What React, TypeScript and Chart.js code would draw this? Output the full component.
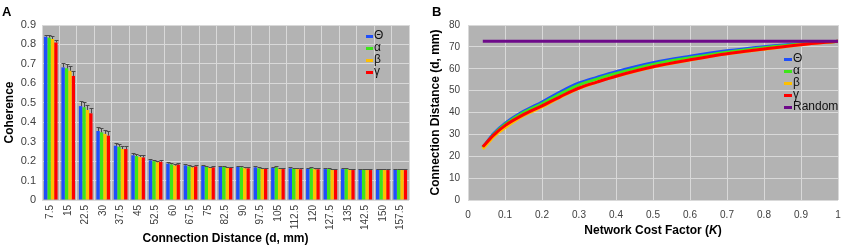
import React, { useEffect, useRef } from "react";
import { Chart, registerables } from "chart.js";

Chart.register(...registerables);

// ---------- Panel A data ----------
const distanceLabels = [
  "7.5", "15", "22.5", "30", "37.5", "45", "52.5", "60", "67.5", "75", "82.5",
  "90", "97.5", "105", "112.5", "120", "127.5", "135", "142.5", "150", "157.5",
];
const thetaCoherence = [0.840, 0.682, 0.483, 0.355, 0.279, 0.230, 0.204, 0.187, 0.178, 0.175, 0.171, 0.171, 0.168, 0.166, 0.163, 0.161, 0.159, 0.159, 0.158, 0.157, 0.157];
const alphaCoherence = [0.835, 0.677, 0.477, 0.348, 0.274, 0.226, 0.200, 0.183, 0.173, 0.170, 0.170, 0.168, 0.163, 0.168, 0.161, 0.163, 0.159, 0.159, 0.158, 0.157, 0.157];
const betaCoherence = [0.828, 0.665, 0.463, 0.340, 0.262, 0.221, 0.194, 0.177, 0.168, 0.166, 0.166, 0.163, 0.159, 0.159, 0.159, 0.158, 0.154, 0.156, 0.154, 0.154, 0.154];
const gammaCoherence = [0.810, 0.638, 0.446, 0.331, 0.262, 0.219, 0.197, 0.182, 0.173, 0.168, 0.166, 0.163, 0.161, 0.159, 0.158, 0.158, 0.156, 0.154, 0.154, 0.154, 0.154];

const thetaError = [0.010, 0.020, 0.025, 0.022, 0.012, 0.010, 0.008, 0.007, 0.006, 0.005, 0.005, 0.005, 0.005, 0.005, 0.005, 0.005, 0.004, 0.004, 0.004, 0.004, 0.004];
const alphaError = [0.012, 0.022, 0.025, 0.022, 0.013, 0.010, 0.008, 0.007, 0.006, 0.005, 0.005, 0.005, 0.005, 0.005, 0.005, 0.005, 0.004, 0.004, 0.004, 0.004, 0.004];
const betaError = [0.013, 0.024, 0.026, 0.022, 0.015, 0.010, 0.008, 0.007, 0.006, 0.005, 0.005, 0.005, 0.005, 0.005, 0.005, 0.005, 0.004, 0.004, 0.004, 0.004, 0.004];
const gammaError = [0.015, 0.026, 0.026, 0.022, 0.015, 0.010, 0.008, 0.007, 0.006, 0.005, 0.005, 0.005, 0.005, 0.005, 0.005, 0.005, 0.004, 0.004, 0.004, 0.004, 0.004];

// ---------- Panel B data ----------
const costFactors = [0.04, 0.07, 0.1, 0.15, 0.2, 0.25, 0.3, 0.35, 0.4, 0.5, 0.6, 0.7, 0.8, 0.9, 1.0];
const thetaDistance = [24.0, 30.5, 35.0, 40.5, 44.8, 49.5, 53.5, 56.2, 58.7, 62.8, 65.7, 68.2, 70.1, 71.6, 72.6];
const alphaDistance = [23.8, 30.0, 34.5, 40.0, 44.0, 48.5, 52.6, 55.4, 57.8, 62.0, 65.0, 67.6, 69.6, 71.3, 72.6];
const betaDistance = [23.3, 29.0, 33.0, 38.5, 42.5, 47.0, 51.0, 54.0, 56.5, 60.8, 64.0, 66.8, 68.9, 71.0, 72.6];
const gammaDistance = [24.3, 29.8, 34.0, 39.0, 43.0, 47.3, 51.2, 54.0, 56.6, 60.9, 64.1, 66.9, 69.0, 71.0, 72.6];
const randomCostFactors = [0.04, 1.0];
const randomDistance = [72.6, 72.6];

const seriesNames = ["Θ", "α", "β", "γ"];
const seriesColors = ["#1f4ffa", "#3de619", "#ffc000", "#ff0000"];
const randomName = "Random";
const randomColor = "#6e0a8a";

const FONT = "'Liberation Sans', Arial, Helvetica, sans-serif";
const PLOT_BG = "#b3b3b3";
const GRID = "#d9d9d9";
const TICK_COLOR = "#404040";

// ---------- plugins ----------
const plotBgPlugin = {
  id: "plotBg",
  beforeDraw(chart: any, _args: any, opts: any) {
    const { ctx, chartArea } = chart;
    if (!chartArea) return;
    ctx.save();
    ctx.fillStyle = opts.color || PLOT_BG;
    ctx.fillRect(chartArea.left, chartArea.top, chartArea.width, chartArea.height);
    ctx.restore();
  },
};

const errorBarsPlugin = {
  id: "errorBars",
  afterDatasetsDraw(chart: any) {
    const { ctx } = chart;
    const yScale = chart.scales.y;
    chart.data.datasets.forEach((ds: any, i: number) => {
      const errs = ds.errorBars;
      if (!errs) return;
      const meta = chart.getDatasetMeta(i);
      ctx.save();
      ctx.strokeStyle = "#4a4a4a";
      ctx.lineWidth = 1;
      meta.data.forEach((bar: any, j: number) => {
        const v = ds.data[j];
        const e = errs[j];
        const yTop = Math.round(yScale.getPixelForValue(v + e)) + 0.5;
        const x = Math.round(bar.x) + 0.5;
        ctx.beginPath();
        ctx.moveTo(x, bar.y);
        ctx.lineTo(x, yTop);
        ctx.moveTo(x - 2, yTop);
        ctx.lineTo(x + 2, yTop);
        ctx.stroke();
      });
      ctx.restore();
    });
  },
};

const innerLegendPlugin = {
  id: "innerLegend",
  afterDraw(chart: any, _args: any, opts: any) {
    if (!opts || opts.display === false) return;
    const { ctx } = chart;
    ctx.save();
    ctx.font = opts.font;
    ctx.textBaseline = "middle";
    ctx.textAlign = "left";
    chart.data.datasets.forEach((ds: any, i: number) => {
      const cy = opts.y + i * opts.spacing;
      ctx.fillStyle = ds.legendColor;
      ctx.fillRect(opts.x, Math.round(cy - 1.5), opts.markerWidth, 3);
      ctx.fillStyle = "#111111";
      ctx.fillText(ds.label, opts.x + opts.markerWidth + 1, cy);
    });
    ctx.restore();
  },
};

const panelLabelPlugin = {
  id: "panelLabel",
  afterDraw(chart: any, _args: any, opts: any) {
    if (!opts || !opts.text) return;
    const { ctx } = chart;
    ctx.save();
    ctx.font = opts.font;
    ctx.fillStyle = "#000000";
    ctx.textBaseline = "alphabetic";
    ctx.textAlign = "left";
    ctx.fillText(opts.text, opts.x, opts.y);
    ctx.restore();
  },
};

const richXTitlePlugin = {
  id: "richXTitle",
  afterDraw(chart: any, _args: any, opts: any) {
    if (!opts || !opts.parts) return;
    const { ctx, chartArea } = chart;
    ctx.save();
    ctx.fillStyle = "#000000";
    ctx.textBaseline = "middle";
    ctx.textAlign = "left";
    const fontFor = (p: any) => `${p.italic ? "italic " : ""}bold ${opts.size}px ${FONT}`;
    let total = 0;
    opts.parts.forEach((p: any) => {
      ctx.font = fontFor(p);
      total += ctx.measureText(p.text).width;
    });
    let x = (chartArea.left + chartArea.right) / 2 - total / 2;
    opts.parts.forEach((p: any) => {
      ctx.font = fontFor(p);
      ctx.fillText(p.text, x, opts.y);
      x += ctx.measureText(p.text).width;
    });
    ctx.restore();
  },
};

const plainNumber = (v: any) => String(Math.round(Number(v) * 100) / 100);

// ---------- Panel A ----------
function CoherenceChart() {
  const ref = useRef<HTMLCanvasElement | null>(null);
  useEffect(() => {
    if (!ref.current) return;
    const values = [thetaCoherence, alphaCoherence, betaCoherence, gammaCoherence];
    const errors = [thetaError, alphaError, betaError, gammaError];
    const chart = new Chart(ref.current, {
      type: "bar",
      data: {
        labels: distanceLabels,
        datasets: seriesNames.map((name, i) => ({
          label: name,
          data: values[i],
          backgroundColor: seriesColors[i],
          legendColor: seriesColors[i],
          borderWidth: 0,
          errorBars: errors[i],
          categoryPercentage: 0.78,
          barPercentage: 1.0,
        })) as any,
      },
      options: {
        responsive: false,
        animation: false,
        layout: { padding: { top: 25, right: 9, left: 0, bottom: 0 } },
        plugins: {
          legend: { display: false },
          tooltip: { enabled: false },
          plotBg: { color: PLOT_BG },
          innerLegend: { x: 366, y: 36, spacing: 12, markerWidth: 7, font: `12px ${FONT}` },
          panelLabel: { text: "A", x: 2, y: 16, font: `bold 13px ${FONT}` },
        } as any,
        scales: {
          x: {
            grid: { color: GRID, lineWidth: 1, drawTicks: false, offset: true },
            border: { display: false },
            ticks: {
              color: TICK_COLOR,
              font: { family: FONT, size: 10 },
              minRotation: 90,
              maxRotation: 90,
              autoSkip: false,
              padding: 5,
            },
            title: {
              display: true,
              text: "Connection Distance (d, mm)",
              color: "#000000",
              font: { family: FONT, size: 12, weight: "bold" },
              padding: { top: 0, bottom: 4 },
            },
            afterFit: (scale: any) => {
              scale.height = 50;
              scale.paddingLeft = 0;
              scale.paddingRight = 0;
            },
          },
          y: {
            min: 0,
            max: 0.9,
            grid: { color: GRID, lineWidth: 1, drawTicks: false },
            border: { display: false },
            ticks: {
              stepSize: 0.1,
              color: TICK_COLOR,
              font: { family: FONT, size: 11 },
              padding: 6,
              callback: plainNumber,
            },
            title: {
              display: true,
              text: "Coherence",
              color: "#000000",
              font: { family: FONT, size: 12, weight: "bold" },
              padding: { top: 2, bottom: 0 },
            },
            afterFit: (scale: any) => {
              scale.width = 42;
            },
          },
        } as any,
      },
      plugins: [plotBgPlugin, errorBarsPlugin, innerLegendPlugin, panelLabelPlugin],
    } as any);
    return () => chart.destroy();
  }, []);
  return <canvas ref={ref} width={418} height={250} style={{ display: "block" }} />;
}

// ---------- Panel B ----------
function DistanceChart() {
  const ref = useRef<HTMLCanvasElement | null>(null);
  useEffect(() => {
    if (!ref.current) return;
    const values = [thetaDistance, alphaDistance, betaDistance, gammaDistance];
    const drawOrder = [4, 3, 2, 1];
    const datasets: any[] = seriesNames.map((name, i) => ({
      label: name,
      data: costFactors.map((k, j) => ({ x: k, y: values[i][j] })),
      borderColor: seriesColors[i],
      legendColor: seriesColors[i],
      borderWidth: 3,
      pointRadius: 0,
      cubicInterpolationMode: "monotone",
      fill: false,
      order: drawOrder[i],
    }));
    datasets.push({
      label: randomName,
      data: randomCostFactors.map((k, j) => ({ x: k, y: randomDistance[j] })),
      borderColor: randomColor,
      legendColor: randomColor,
      borderWidth: 3,
      pointRadius: 0,
      fill: false,
      order: 0,
    });
    const chart = new Chart(ref.current, {
      type: "line",
      data: { datasets },
      options: {
        responsive: false,
        animation: false,
        layout: { padding: { top: 25, right: 5, left: 0, bottom: 0 } },
        plugins: {
          legend: { display: false },
          tooltip: { enabled: false },
          plotBg: { color: PLOT_BG },
          innerLegend: { x: 366, y: 59, spacing: 12, markerWidth: 8, font: `12px ${FONT}` },
          panelLabel: { text: "B", x: 14, y: 16, font: `bold 13px ${FONT}` },
          richXTitle: {
            y: 231,
            size: 12,
            parts: [
              { text: "Network Cost Factor (", italic: false },
              { text: "K", italic: true },
              { text: ")", italic: false },
            ],
          },
        } as any,
        scales: {
          x: {
            type: "linear",
            min: 0,
            max: 1,
            grid: { color: GRID, lineWidth: 1, drawTicks: false },
            border: { display: false },
            ticks: {
              stepSize: 0.1,
              color: TICK_COLOR,
              font: { family: FONT, size: 10 },
              padding: 9,
              maxRotation: 0,
              callback: plainNumber,
            },
            afterFit: (scale: any) => {
              scale.height = 50;
              scale.paddingLeft = 0;
              scale.paddingRight = 0;
            },
          },
          y: {
            min: 0,
            max: 80,
            grid: { color: GRID, lineWidth: 1, drawTicks: false },
            border: { display: false },
            ticks: {
              stepSize: 10,
              color: TICK_COLOR,
              font: { family: FONT, size: 10 },
              padding: 8,
              callback: plainNumber,
            },
            title: {
              display: true,
              text: "Connection Distance (d, mm)",
              color: "#000000",
              font: { family: FONT, size: 12, weight: "bold" },
              padding: { top: 10, bottom: 0 },
            },
            afterFit: (scale: any) => {
              scale.width = 50;
              scale.paddingTop = 0;
              scale.paddingBottom = 0;
            },
          },
        } as any,
      },
      plugins: [plotBgPlugin, innerLegendPlugin, panelLabelPlugin, richXTitlePlugin],
    } as any);
    return () => chart.destroy();
  }, []);
  return <canvas ref={ref} width={425} height={250} style={{ display: "block" }} />;
}

export default function App() {
  return (
    <div
      style={{
        position: "fixed",
        left: 0,
        top: 0,
        width: 843,
        height: 250,
        display: "flex",
        flexDirection: "row",
        background: "#ffffff",
      }}
    >
      <CoherenceChart />
      <DistanceChart />
    </div>
  );
}
